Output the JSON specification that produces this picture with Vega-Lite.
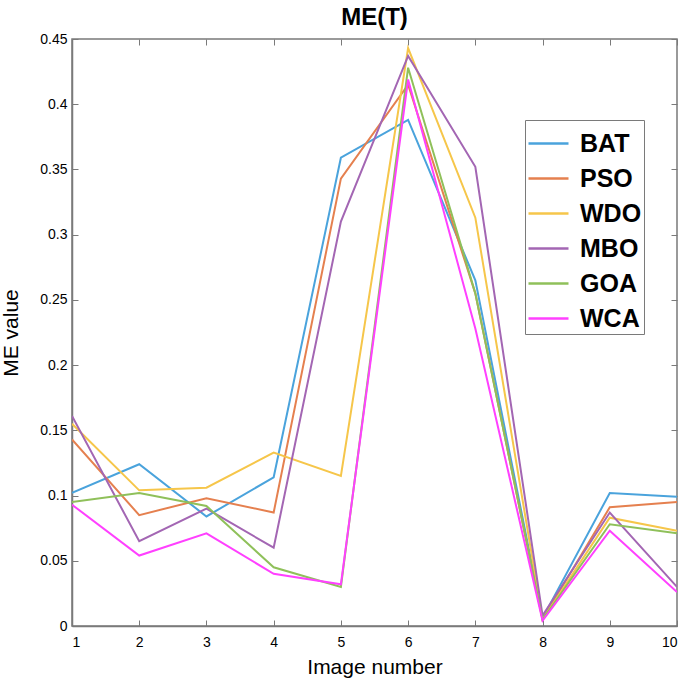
{
  "$schema": "https://vega.github.io/schema/vega-lite/v6.json",
  "width": 605,
  "height": 587,
  "autosize": {"type": "none"},
  "padding": {"left": 72, "top": 39, "right": 8, "bottom": 56},
  "background": "white",
  "config": {
    "font": "Liberation Sans",
    "view": {"stroke": "#7a7a7a", "strokeWidth": 1.5}
  },
  "title": {"text": "ME(T)", "fontSize": 24, "fontWeight": "bold", "font": "Liberation Sans", "color": "black", "offset": 2, "anchor": "middle"},
  "data": {"values": [
    {"img": 1, "algo": "BAT", "v": 0.102}, {"img": 2, "algo": "BAT", "v": 0.124}, {"img": 3, "algo": "BAT", "v": 0.084}, {"img": 4, "algo": "BAT", "v": 0.114}, {"img": 5, "algo": "BAT", "v": 0.359}, {"img": 6, "algo": "BAT", "v": 0.388}, {"img": 7, "algo": "BAT", "v": 0.265}, {"img": 8, "algo": "BAT", "v": 0.006}, {"img": 9, "algo": "BAT", "v": 0.102}, {"img": 10, "algo": "BAT", "v": 0.099},
    {"img": 1, "algo": "PSO", "v": 0.143}, {"img": 2, "algo": "PSO", "v": 0.085}, {"img": 3, "algo": "PSO", "v": 0.098}, {"img": 4, "algo": "PSO", "v": 0.087}, {"img": 5, "algo": "PSO", "v": 0.343}, {"img": 6, "algo": "PSO", "v": 0.415}, {"img": 7, "algo": "PSO", "v": 0.255}, {"img": 8, "algo": "PSO", "v": 0.005}, {"img": 9, "algo": "PSO", "v": 0.091}, {"img": 10, "algo": "PSO", "v": 0.095},
    {"img": 1, "algo": "WDO", "v": 0.155}, {"img": 2, "algo": "WDO", "v": 0.104}, {"img": 3, "algo": "WDO", "v": 0.106}, {"img": 4, "algo": "WDO", "v": 0.133}, {"img": 5, "algo": "WDO", "v": 0.115}, {"img": 6, "algo": "WDO", "v": 0.443}, {"img": 7, "algo": "WDO", "v": 0.313}, {"img": 8, "algo": "WDO", "v": 0.005}, {"img": 9, "algo": "WDO", "v": 0.083}, {"img": 10, "algo": "WDO", "v": 0.073},
    {"img": 1, "algo": "MBO", "v": 0.161}, {"img": 2, "algo": "MBO", "v": 0.065}, {"img": 3, "algo": "MBO", "v": 0.090}, {"img": 4, "algo": "MBO", "v": 0.060}, {"img": 5, "algo": "MBO", "v": 0.310}, {"img": 6, "algo": "MBO", "v": 0.437}, {"img": 7, "algo": "MBO", "v": 0.352}, {"img": 8, "algo": "MBO", "v": 0.008}, {"img": 9, "algo": "MBO", "v": 0.087}, {"img": 10, "algo": "MBO", "v": 0.030},
    {"img": 1, "algo": "GOA", "v": 0.095}, {"img": 2, "algo": "GOA", "v": 0.102}, {"img": 3, "algo": "GOA", "v": 0.092}, {"img": 4, "algo": "GOA", "v": 0.045}, {"img": 5, "algo": "GOA", "v": 0.030}, {"img": 6, "algo": "GOA", "v": 0.428}, {"img": 7, "algo": "GOA", "v": 0.255}, {"img": 8, "algo": "GOA", "v": 0.005}, {"img": 9, "algo": "GOA", "v": 0.078}, {"img": 10, "algo": "GOA", "v": 0.071},
    {"img": 1, "algo": "WCA", "v": 0.093}, {"img": 2, "algo": "WCA", "v": 0.054}, {"img": 3, "algo": "WCA", "v": 0.071}, {"img": 4, "algo": "WCA", "v": 0.040}, {"img": 5, "algo": "WCA", "v": 0.032}, {"img": 6, "algo": "WCA", "v": 0.419}, {"img": 7, "algo": "WCA", "v": 0.228}, {"img": 8, "algo": "WCA", "v": 0.004}, {"img": 9, "algo": "WCA", "v": 0.073}, {"img": 10, "algo": "WCA", "v": 0.026}
  ]},
  "layer": [
    {
      "mark": {"type": "line", "strokeWidth": 2, "clip": true},
      "encoding": {
        "x": {"field": "img", "type": "quantitative", "scale": {"domain": [1, 10], "nice": false},
          "axis": {"title": "Image number", "values": [1,2,3,4,5,6,7,8,9,10], "format": "d", "grid": false,
            "tickSize": -6, "tickColor": "#7a7a7a", "domainColor": "#7a7a7a", "domainWidth": 1.5,
            "labelFontSize": 14, "labelColor": "black", "labelPadding": 15, "titleFontSize": 21, "titleFontWeight": "normal", "titleColor": "black", "titlePadding": 7}},
        "y": {"field": "v", "type": "quantitative", "scale": {"domain": [0, 0.45], "nice": false},
          "axis": {"title": "ME value", "values": [0,0.05,0.1,0.15,0.2,0.25,0.3,0.35,0.4,0.45], "format": ".2~f", "grid": false,
            "tickSize": -6, "tickColor": "#7a7a7a", "domainColor": "#7a7a7a", "domainWidth": 1.5,
            "labelFontSize": 14, "labelColor": "black", "labelPadding": 11, "titleFontSize": 21, "titleFontWeight": "normal", "titleColor": "black", "titlePadding": 18}},
        "color": {"field": "algo", "type": "nominal", "sort": ["BAT", "PSO", "WDO", "MBO", "GOA", "WCA"],
          "scale": {"domain": ["BAT", "PSO", "WDO", "MBO", "GOA", "WCA"], "range": ["#4aa3dc", "#e5804f", "#f6c64a", "#a366b3", "#8fc05a", "#ff40ff"]},
          "legend": {"title": null, "orient": "none", "legendX": 453, "legendY": 81, "symbolType": "stroke", "symbolSize": 1600, "symbolStrokeWidth": 2.5,
            "labelFontSize": 25, "labelFontWeight": "bold", "labelColor": "black", "rowPadding": -7, "labelOffset": 10,
            "strokeColor": "#7a7a7a", "padding": 2, "fillColor": "white"}}
      }
    },
    {
      "mark": {"type": "line", "opacity": 0},
      "encoding": {
        "x": {"field": "img", "type": "quantitative", "axis": {"orient": "top", "title": null, "labels": false, "values": [1,2,3,4,5,6,7,8,9,10], "tickSize": -6, "tickColor": "#7a7a7a", "domain": false, "grid": false}},
        "y": {"field": "v", "type": "quantitative", "axis": {"orient": "right", "title": null, "labels": false, "values": [0,0.05,0.1,0.15,0.2,0.25,0.3,0.35,0.4,0.45], "tickSize": -6, "tickColor": "#7a7a7a", "domain": false, "grid": false}}
      }
    }
  ],
  "resolve": {"axis": {"x": "independent", "y": "independent"}}
}
